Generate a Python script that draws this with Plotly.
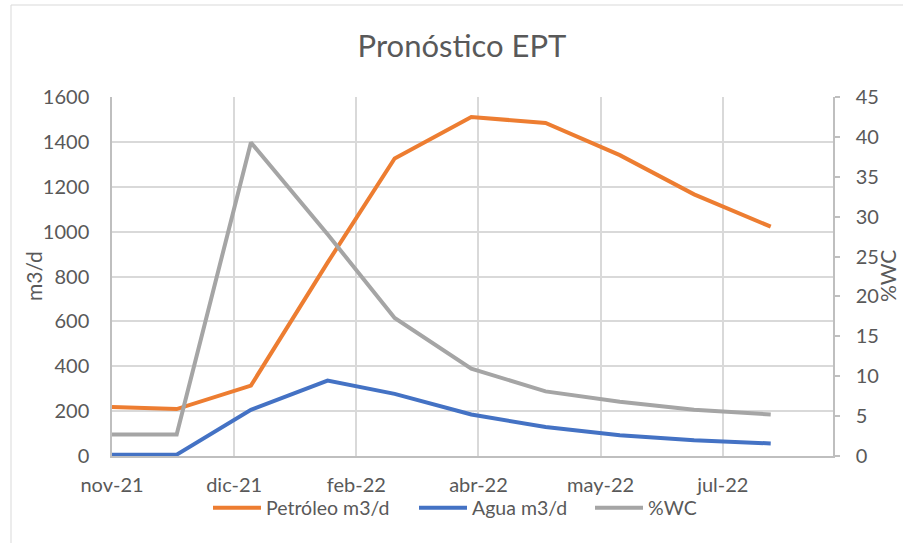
import plotly.graph_objects as go

# Data
fechas = ["2021-11-01", "2021-11-28", "2021-12-29", "2022-01-30", "2022-02-27",
          "2022-03-31", "2022-05-01", "2022-06-01", "2022-07-02", "2022-08-03"]
petroleo = [218, 209, 314, 862, 1326, 1511, 1484, 1341, 1166, 1022]
agua = [6, 6, 206, 336, 277, 185, 129, 92, 70, 56]
wc = [2.7, 2.7, 39.3, 27.8, 17.3, 10.95, 8.1, 6.8, 5.8, 5.2]

tick_fechas = ["2021-11-01", "2021-12-22", "2022-02-11", "2022-04-03", "2022-05-24", "2022-07-14"]
tick_labels = ["nov-21", "dic-21", "feb-22", "abr-22", "may-22", "jul-22"]

FONT = "Lato, 'Open Sans', sans-serif"
TXT = "#595959"
GRID = "#d9d9d9"
AXL = "#bfbfbf"

fig = go.Figure()
fig.add_trace(go.Scatter(x=fechas, y=petroleo, name="Petróleo m3/d", mode="lines",
                         line=dict(color="#ED7D31", width=4), legend="legend"))
fig.add_trace(go.Scatter(x=fechas, y=agua, name="Agua m3/d", mode="lines",
                         line=dict(color="#4472C4", width=4), legend="legend2"))
fig.add_trace(go.Scatter(x=fechas, y=wc, name="%WC", mode="lines", yaxis="y2",
                         line=dict(color="#A5A5A5", width=4), legend="legend3"))

L, R, T, B = 112, 70, 97, 87
W, H = 903, 543
pw = W - L - R
ph = H - T - B

def px_x(p):
    return (p - L) / pw

def px_y(p):
    return (H - B - p) / ph

def leg(xpix):
    return dict(orientation="h", x=px_x(xpix), xanchor="left",
                y=px_y(508), yanchor="middle",
                font=dict(size=19.5, color=TXT), itemwidth=48,
                bgcolor="rgba(0,0,0,0)")

fig.update_layout(
    width=W, height=H,
    margin=dict(l=L, r=R, t=T, b=B),
    paper_bgcolor="white", plot_bgcolor="white",
    font=dict(family=FONT, color=TXT, size=19),
    title=dict(text="Pronóstico EPT", x=462 / W, xanchor="center",
               y=1 - 46 / H, yanchor="middle",
               font=dict(size=31, color=TXT, family=FONT)),
    xaxis=dict(type="date", range=["2021-11-01", "2022-08-29"],
               tickvals=tick_fechas, ticktext=tick_labels,
               showgrid=True, gridcolor=GRID, gridwidth=1.5,
               showline=True, linecolor=AXL, linewidth=1.5,
               ticks="", ticklabelstandoff=10, zeroline=False,
               tickfont=dict(size=20, color=TXT)),
    yaxis=dict(range=[0, 1600], dtick=200, showgrid=True, gridcolor=GRID,
               gridwidth=1.5, showline=True, linecolor=AXL, linewidth=1.5,
               ticks="", ticklabelstandoff=17, zeroline=False,
               tickfont=dict(size=20, color=TXT)),
    yaxis2=dict(range=[0, 45], dtick=5, overlaying="y", side="right",
                showgrid=False, showline=True, linecolor=AXL, linewidth=1.5,
                ticks="outside", ticklen=5, tickcolor=AXL, tickwidth=1.5,
                ticklabelstandoff=12, zeroline=False,
                tickfont=dict(size=20, color=TXT)),
    legend=leg(208),
    legend2=leg(414),
    legend3=leg(590),
    showlegend=True,
    annotations=[
        dict(text="m3/d", xref="paper", yref="paper", x=px_x(33), y=px_y(276),
             xanchor="center", yanchor="middle", textangle=-90, showarrow=False,
             font=dict(size=21, color=TXT, family=FONT)),
        dict(text="%WC", xref="paper", yref="paper", x=px_x(887), y=px_y(276),
             xanchor="center", yanchor="middle", textangle=-90, showarrow=False,
             font=dict(size=21, color=TXT, family=FONT)),
    ],
    shapes=[
        dict(type="rect", xref="paper", yref="paper",
             x0=px_x(11), y0=px_y(700), x1=px_x(1000), y1=px_y(5),
             line=dict(color=GRID, width=1), fillcolor="rgba(0,0,0,0)", layer="below"),
    ],
)

fig.write_html("out.html", config={"displayModeBar": False},
               post_script="document.body.style.margin='0';")
